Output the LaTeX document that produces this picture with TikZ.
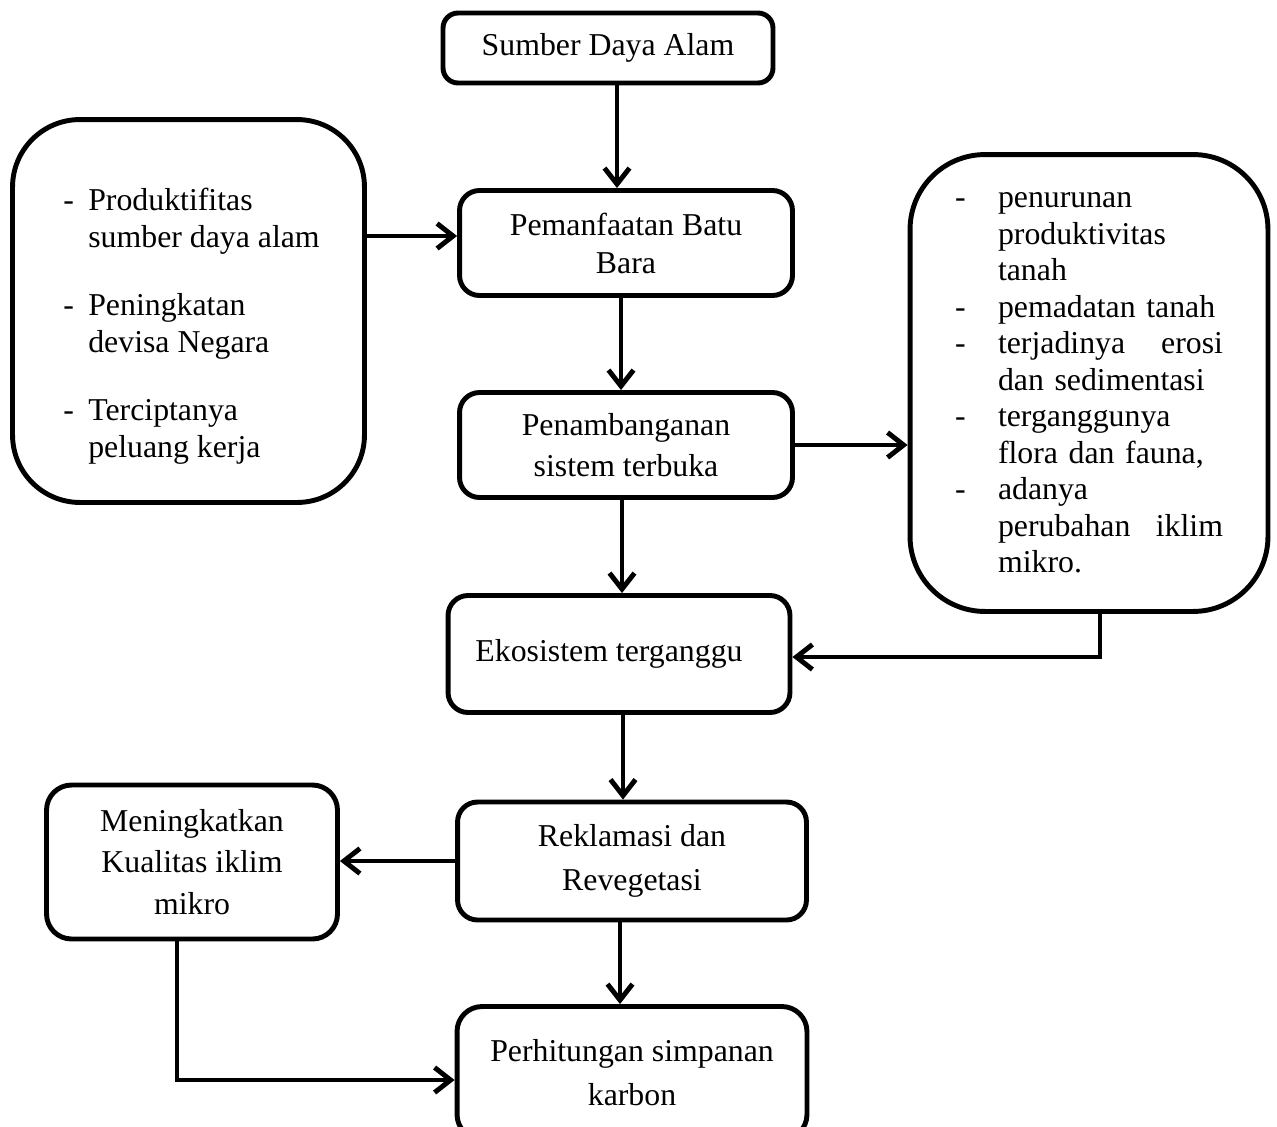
\documentclass[tikz,border=0pt]{standalone}
\usepackage{fontspec}
\setmainfont{Liberation Serif}
\usetikzlibrary{arrows.meta}
\definecolor{flowink}{HTML}{000000}
\newcommand{\spaced}[1]{\fontsize{18.1}{#1}\selectfont}
\newcommand{\butir}[1]{\makebox[#1][l]{-}}
\newcommand{\rata}[2]{\hbox to 4.5cm{#1\hfill #2}}

\begin{document}
\begin{tikzpicture}[
  x=0.02cm,
  y=-0.02cm,
  every node/.style={font=\spaced{20.8pt}, flowink},
  box/.style={draw=flowink, line width=2.8pt, rounded corners=0.4cm,
    align=center, inner sep=0pt},
  bigbox/.style={box, rounded corners=1.35cm},
  link/.style={flowink, line width=2.8pt,
    -{Straight Barb[length=0.32cm, width=0.5cm]}}
]
  \useasboundingbox (0,0) rectangle (1277,1126);
  \clip (0,0) rectangle (1277,1126);

  % ================= main column ========================================
  \node[box, rounded corners=0.3cm, minimum width=6.6cm, minimum height=1.4cm]
    (sda) at (608,48) {Sumber Daya Alam};
  \node[box, minimum width=6.66cm, minimum height=2.1cm, font=\spaced{21.6pt}]
    (batu) at (626,243) {Pemanfaatan Batu\\Bara};
  \node[box, minimum width=6.66cm, minimum height=2.1cm, font=\spaced{23.3pt}]
    (tambang) at (626,445) {Penambanganan\\sistem terbuka};
  % text sits a little left of the middle in the source
  \node[box, minimum width=6.84cm, minimum height=2.34cm]
    (eko) at (619,654) {Ekosistem terganggu\hspace*{0.4cm}};
  \node[box, minimum width=6.98cm, minimum height=2.36cm, font=\spaced{25pt}]
    (rek) at (632,861) {Reklamasi dan\\Revegetasi};
  % the last box runs past the lower edge of the page, as in the source
  \node[box, rounded corners=0.5cm, minimum width=7cm, minimum height=2.66cm,
    font=\spaced{25pt}]
    (karbon) at (632,1073) {Perhitungan simpanan\\karbon};

  % ================= side boxes =========================================
  \node[bigbox, minimum width=7.04cm, minimum height=7.66cm]
    (manfaat) at (188.5,311) {};
  \node[anchor=north west, align=left, inner sep=0pt, font=\spaced{21pt}]
    (manfaat-isi) at (63,188) {%
      \butir{0.5cm}Produktifitas\\
      \hspace*{0.5cm}sumber daya alam\\[0.62cm]
      \butir{0.5cm}Peningkatan\\
      \hspace*{0.5cm}devisa Negara\\[0.62cm]
      \butir{0.5cm}Terciptanya\\
      \hspace*{0.5cm}peluang kerja};

  \node[bigbox, rounded corners=1.5cm, minimum width=7.16cm,
    minimum height=9.14cm, text width=5.36cm, align=left]
    (dampak) at (1089,383) {%
      \butir{0.86cm}penurunan\\
      \hspace*{0.86cm}produktivitas\\
      \hspace*{0.86cm}tanah\\
      \butir{0.86cm}pemadatan tanah\\
      \butir{0.86cm}\rata{terjadinya}{erosi}\\
      \hspace*{0.86cm}dan sedimentasi\\
      \butir{0.86cm}terganggunya\\
      \hspace*{0.86cm}flora dan fauna,\\
      \butir{0.86cm}adanya\\
      \hspace*{0.86cm}\rata{perubahan}{iklim}\\
      \hspace*{0.86cm}mikro.};

  \node[box, rounded corners=0.5cm, minimum width=5.82cm,
    minimum height=3.08cm, font=\spaced{23.6pt}]
    (naik) at (192,862) {Meningkatkan\\Kualitas iklim\\mikro};

  % ================= connectors =========================================
  \draw[link] ([xshift=0.18cm]sda.south)
    -- ([xshift=0.18cm]sda.south |- batu.north);
  \draw[link] ([xshift=-0.1cm]batu.south)
    -- ([xshift=-0.1cm]batu.south |- tambang.north);
  \draw[link] ([xshift=-0.08cm]tambang.south)
    -- ([xshift=-0.08cm]tambang.south |- eko.north);
  \draw[link] ([xshift=0.08cm]eko.south)
    -- ([xshift=0.08cm]eko.south |- rek.north);
  \draw[link] ([xshift=-0.24cm]rek.south)
    -- ([xshift=-0.24cm]rek.south |- karbon.north);

  \draw[link] ([yshift=0.14cm]batu.west -| manfaat.east)
    -- ([yshift=0.14cm]batu.west);
  \draw[link] (tambang.east) -- (tambang.east -| dampak.west);
  \draw[link] ([xshift=0.22cm]dampak.south) |- ([yshift=-0.06cm]eko.east);
  \draw[link] (rek.west) -- (rek.west -| naik.east);
  \draw[link] ([xshift=-0.3cm]naik.south) |- ([yshift=-0.14cm]karbon.west);
\end{tikzpicture}
\end{document}
